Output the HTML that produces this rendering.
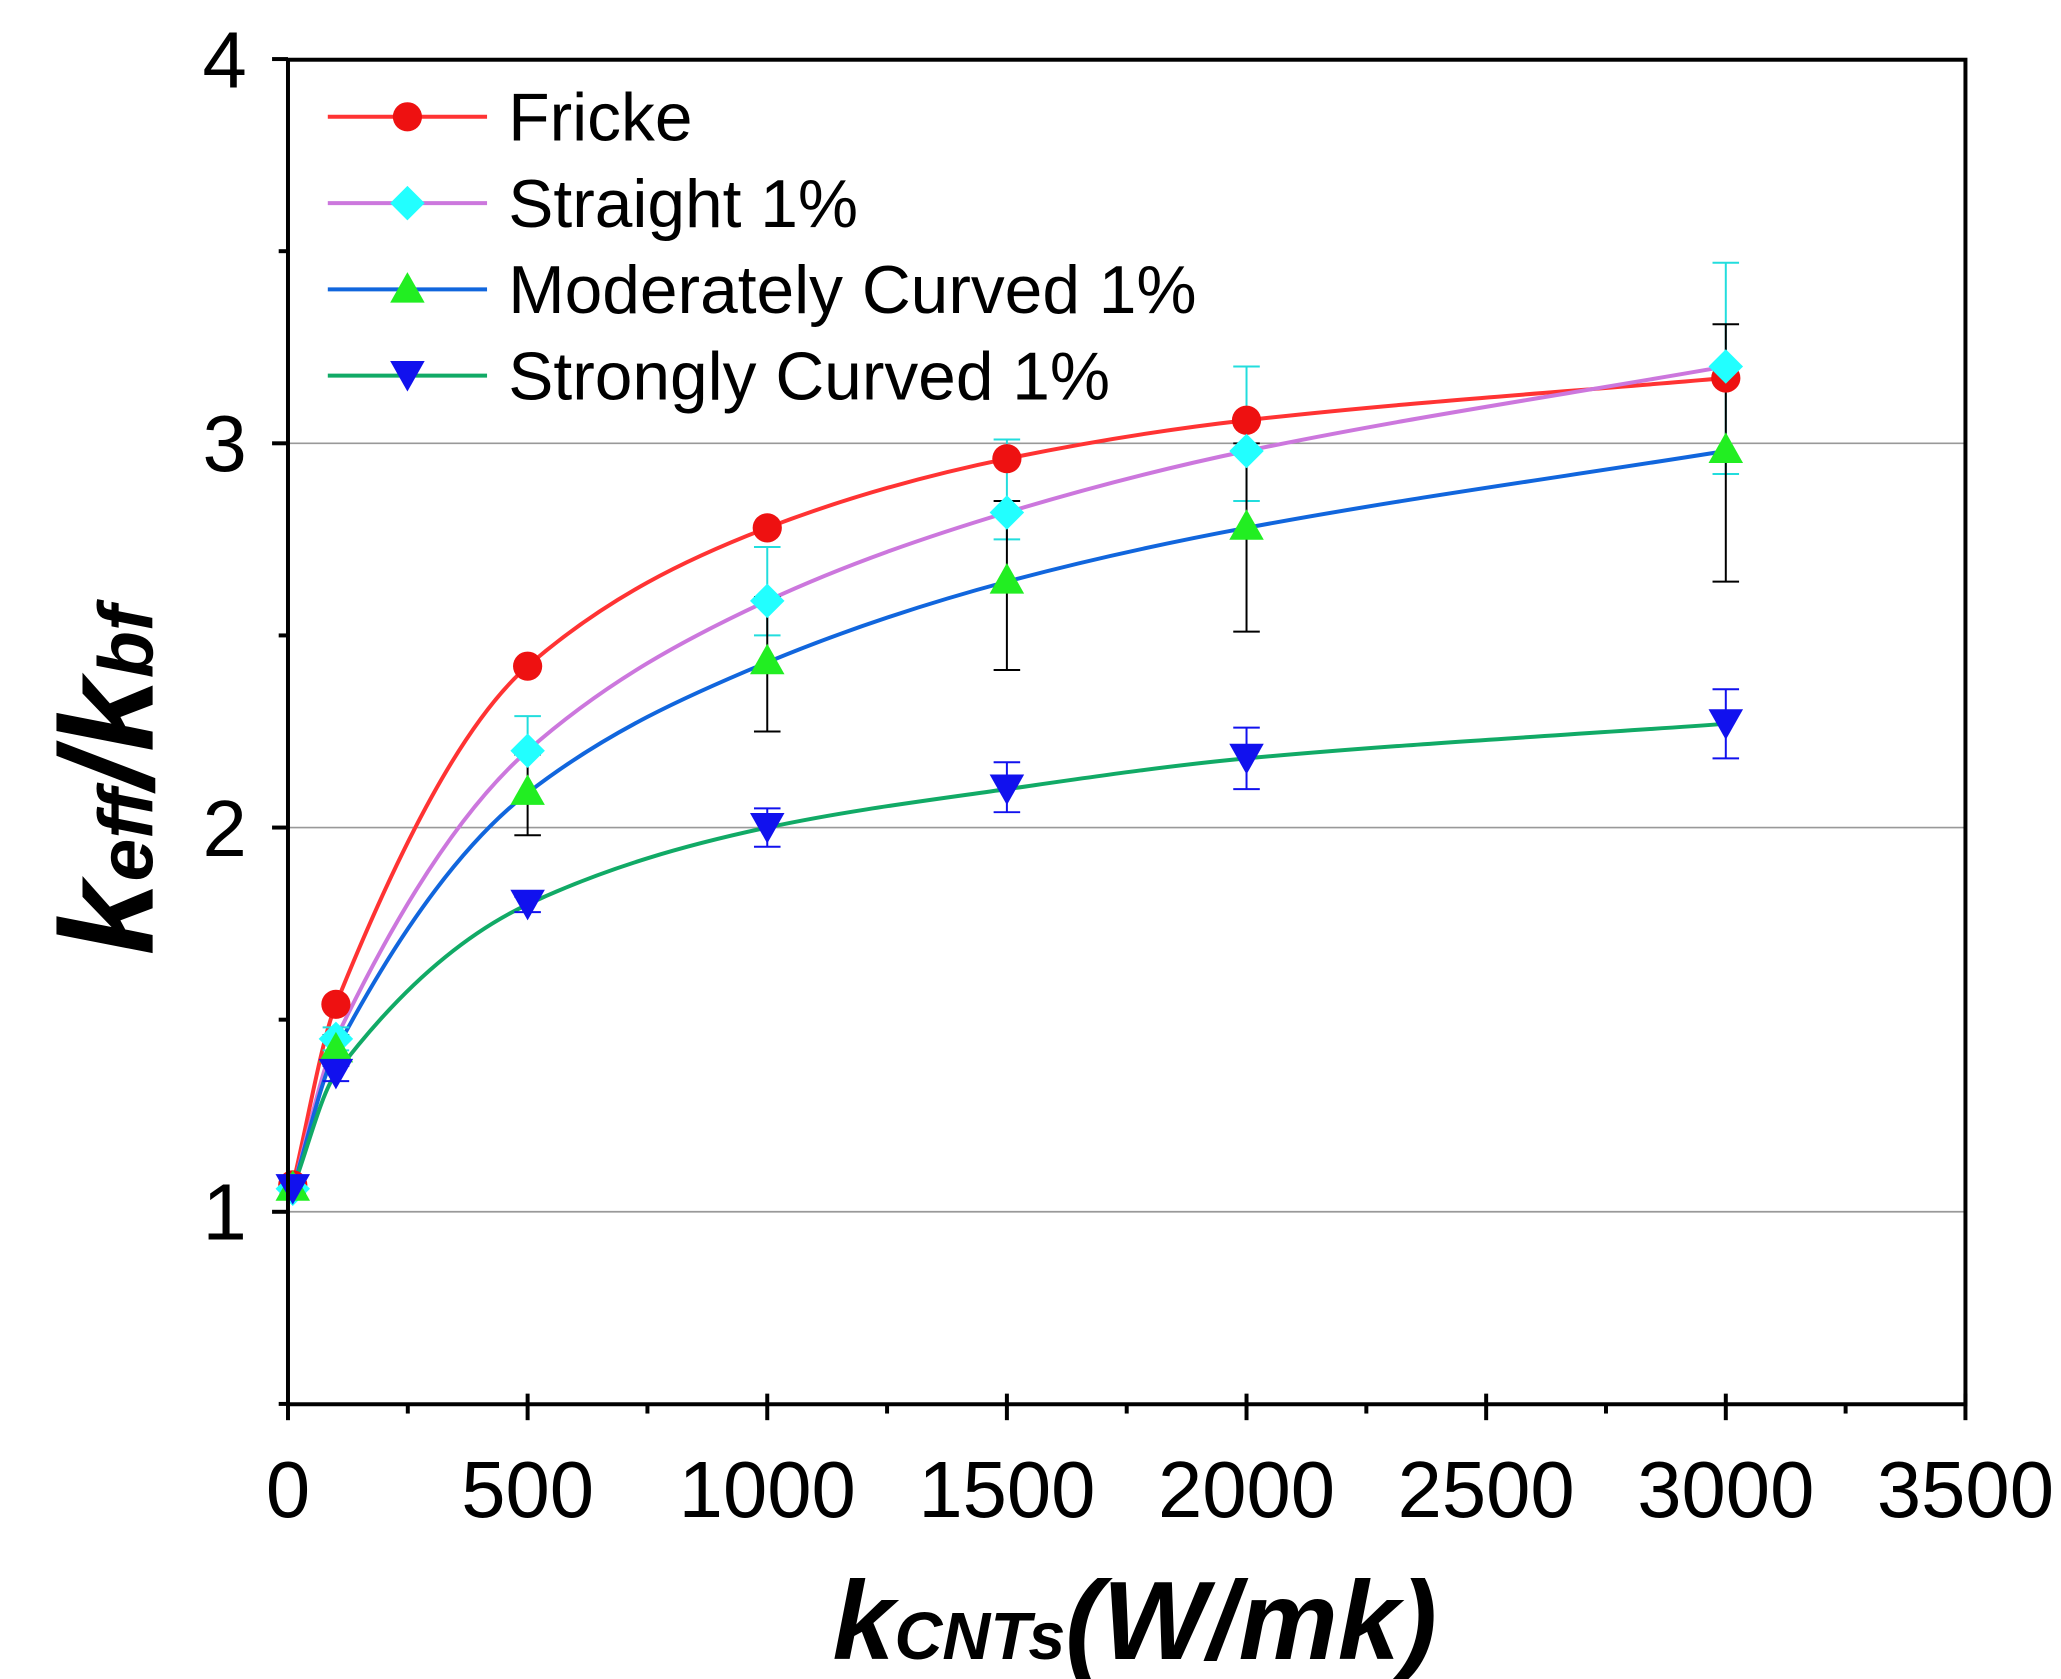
<!DOCTYPE html>
<html><head><meta charset="utf-8"><style>html,body{margin:0;padding:0;background:#fff}svg{display:block}</style></head>
<body>
<svg id="s" width="2061" height="1679" viewBox="0 0 1553 1265" preserveAspectRatio="none" xmlns="http://www.w3.org/2000/svg" font-family="Liberation Sans, sans-serif">
<rect width="1553" height="1265" fill="#fff"/>
<g stroke="#999" stroke-width="1.3">
<line x1="217" x2="1481" y1="334" y2="334"/><line x1="217" x2="1481" y1="623.5" y2="623.5"/><line x1="217" x2="1481" y1="913" y2="913"/>
</g>
<g id="data"></g>
<rect x="217" y="45" width="1264" height="1013" fill="none" stroke="#000" stroke-width="3"/>
<g stroke="#000" stroke-width="3" id="ticks"></g>
<g font-size="60" text-anchor="end">
<text x="186" y="66">4</text><text x="186" y="355">3</text><text x="186" y="645">2</text><text x="186" y="934">1</text>
</g>
<g font-size="60" text-anchor="middle" id="xl"></g>
<text x="855" y="1250" font-size="84" font-weight="bold" font-style="italic" text-anchor="middle">k<tspan font-size="50">CNTs</tspan>(W/mk)</text>
<text transform="translate(115,588) rotate(-90)" font-size="100" font-weight="bold" font-style="italic" text-anchor="middle">k<tspan font-size="58">eff</tspan>/k<tspan font-size="58">bf</tspan></text>
<g font-size="51">
<line x1="247" x2="367" y1="88" y2="88" stroke="#ff3333" stroke-width="3"/><circle cx="307" cy="88" r="11" fill="#ee1111"/><text x="383" y="106">Fricke</text>
<line x1="247" x2="367" y1="153" y2="153" stroke="#cc77dd" stroke-width="3"/><path d="M307 140 L320 153 L307 166 L294 153Z" fill="#22ffff"/><text x="383" y="171">Straight 1%</text>
<line x1="247" x2="367" y1="218" y2="218" stroke="#1166dd" stroke-width="3"/><path d="M307 205 L320 228 L294 228Z" fill="#22ee22"/><text x="383" y="236">Moderately Curved 1%</text>
<line x1="247" x2="367" y1="283" y2="283" stroke="#11aa66" stroke-width="3"/><path d="M307 295 L320 272 L294 272Z" fill="#1111ee"/><text x="383" y="301">Strongly Curved 1%</text>
</g>
</svg>
<script>
var NS="http://www.w3.org/2000/svg";
function X(v){return 217+v*0.36114}function Y(v){return 913-(v-1)*289.5}
function el(p,t,a){var e=document.createElementNS(NS,t);for(var k in a)e.setAttribute(k,a[k]);p.appendChild(e);return e}
var tk=document.getElementById('ticks'),xl=document.getElementById('xl');
for(var v=0;v<=3500;v+=250){var big=v%500==0;el(tk,'line',{x1:X(v),x2:X(v),y1:1058,y2:1058+(big?12:7)});if(big&&v>0)el(tk,'line',{x1:X(v),x2:X(v),y1:1058,y2:1050});
if(big){var t=el(xl,'text',{x:X(v),y:1143});t.textContent=v;}}
for(var y=0.5;y<=4;y+=0.5){el(tk,'line',{x1:217-(y%1==0?12:7),x2:217,y1:Y(y),y2:Y(y)})}
var xs=[10,100,500,1000,1500,2000,3000];
var S=[
{c:'#ff3333',m:'#ee1111',k:'o',y:[1.07,1.54,2.42,2.78,2.96,3.06,3.17],e:null},
{c:'#cc77dd',m:'#22ffff',k:'d',y:[1.06,1.45,2.2,2.59,2.82,2.98,3.2],e:[[1.08,1.04],[1.48,1.42],[2.29,2.19],[2.73,2.5],[3.01,2.75],[3.2,2.85],[3.47,2.92]],ec:'#22dddd'},
{c:'#1166dd',m:'#22ee22',k:'t',y:[1.06,1.42,2.09,2.43,2.64,2.78,2.98],e:[[1.08,1.04],[1.46,1.38],[2.19,1.98],[2.6,2.25],[2.85,2.41],[3.0,2.51],[3.31,2.64]],ec:'#000'},
{c:'#11aa66',m:'#1111ee',k:'v',y:[1.06,1.36,1.8,2.0,2.1,2.18,2.27],e:[[1.07,1.05],[1.38,1.34],[1.82,1.78],[2.05,1.95],[2.17,2.04],[2.26,2.1],[2.36,2.18]],ec:'#1111ee'}];
var g=document.getElementById('data');
function curve(ys){var n=xs.length,d=[],m=[];for(var i=0;i<n-1;i++)d.push((ys[i+1]-ys[i])/(xs[i+1]-xs[i]));
m[0]=d[0];m[n-1]=d[n-2];for(i=1;i<n-1;i++){m[i]=d[i-1]*d[i]<=0?0:2/(1/d[i-1]+1/d[i]);}
var p='M'+X(xs[0])+' '+Y(ys[0]);for(i=0;i<n-1;i++){var h=xs[i+1]-xs[i];p+=' C'+X(xs[i]+h/3)+' '+Y(ys[i]+m[i]*h/3)+' '+X(xs[i+1]-h/3)+' '+Y(ys[i+1]-m[i+1]*h/3)+' '+X(xs[i+1])+' '+Y(ys[i+1]);}return p}
S.forEach(function(s){el(g,'path',{d:curve(s.y),fill:'none',stroke:s.c,'stroke-width':3});});
S.forEach(function(s){if(s.e)s.e.forEach(function(e,i){var x=X(xs[i]);el(g,'line',{x1:x,x2:x,y1:Y(e[0]),y2:Y(e[1]),stroke:s.ec,'stroke-width':1.5});el(g,'line',{x1:x-10,x2:x+10,y1:Y(e[0]),y2:Y(e[0]),stroke:s.ec,'stroke-width':1.5});el(g,'line',{x1:x-10,x2:x+10,y1:Y(e[1]),y2:Y(e[1]),stroke:s.ec,'stroke-width':1.5});});});
S.forEach(function(s){s.y.forEach(function(v,i){var x=X(xs[i]),y=Y(v);
if(s.k=='o')el(g,'circle',{cx:x,cy:y,r:11,fill:s.m});
else if(s.k=='d')el(g,'path',{d:'M'+x+' '+(y-13)+' L'+(x+13)+' '+y+' L'+x+' '+(y+13)+' L'+(x-13)+' '+y+'Z',fill:s.m});
else if(s.k=='t')el(g,'path',{d:'M'+x+' '+(y-14)+' L'+(x+13)+' '+(y+9)+' L'+(x-13)+' '+(y+9)+'Z',fill:s.m});
else el(g,'path',{d:'M'+x+' '+(y+12)+' L'+(x+13)+' '+(y-11)+' L'+(x-13)+' '+(y-11)+'Z',fill:s.m});});});
</script>
</body></html>
